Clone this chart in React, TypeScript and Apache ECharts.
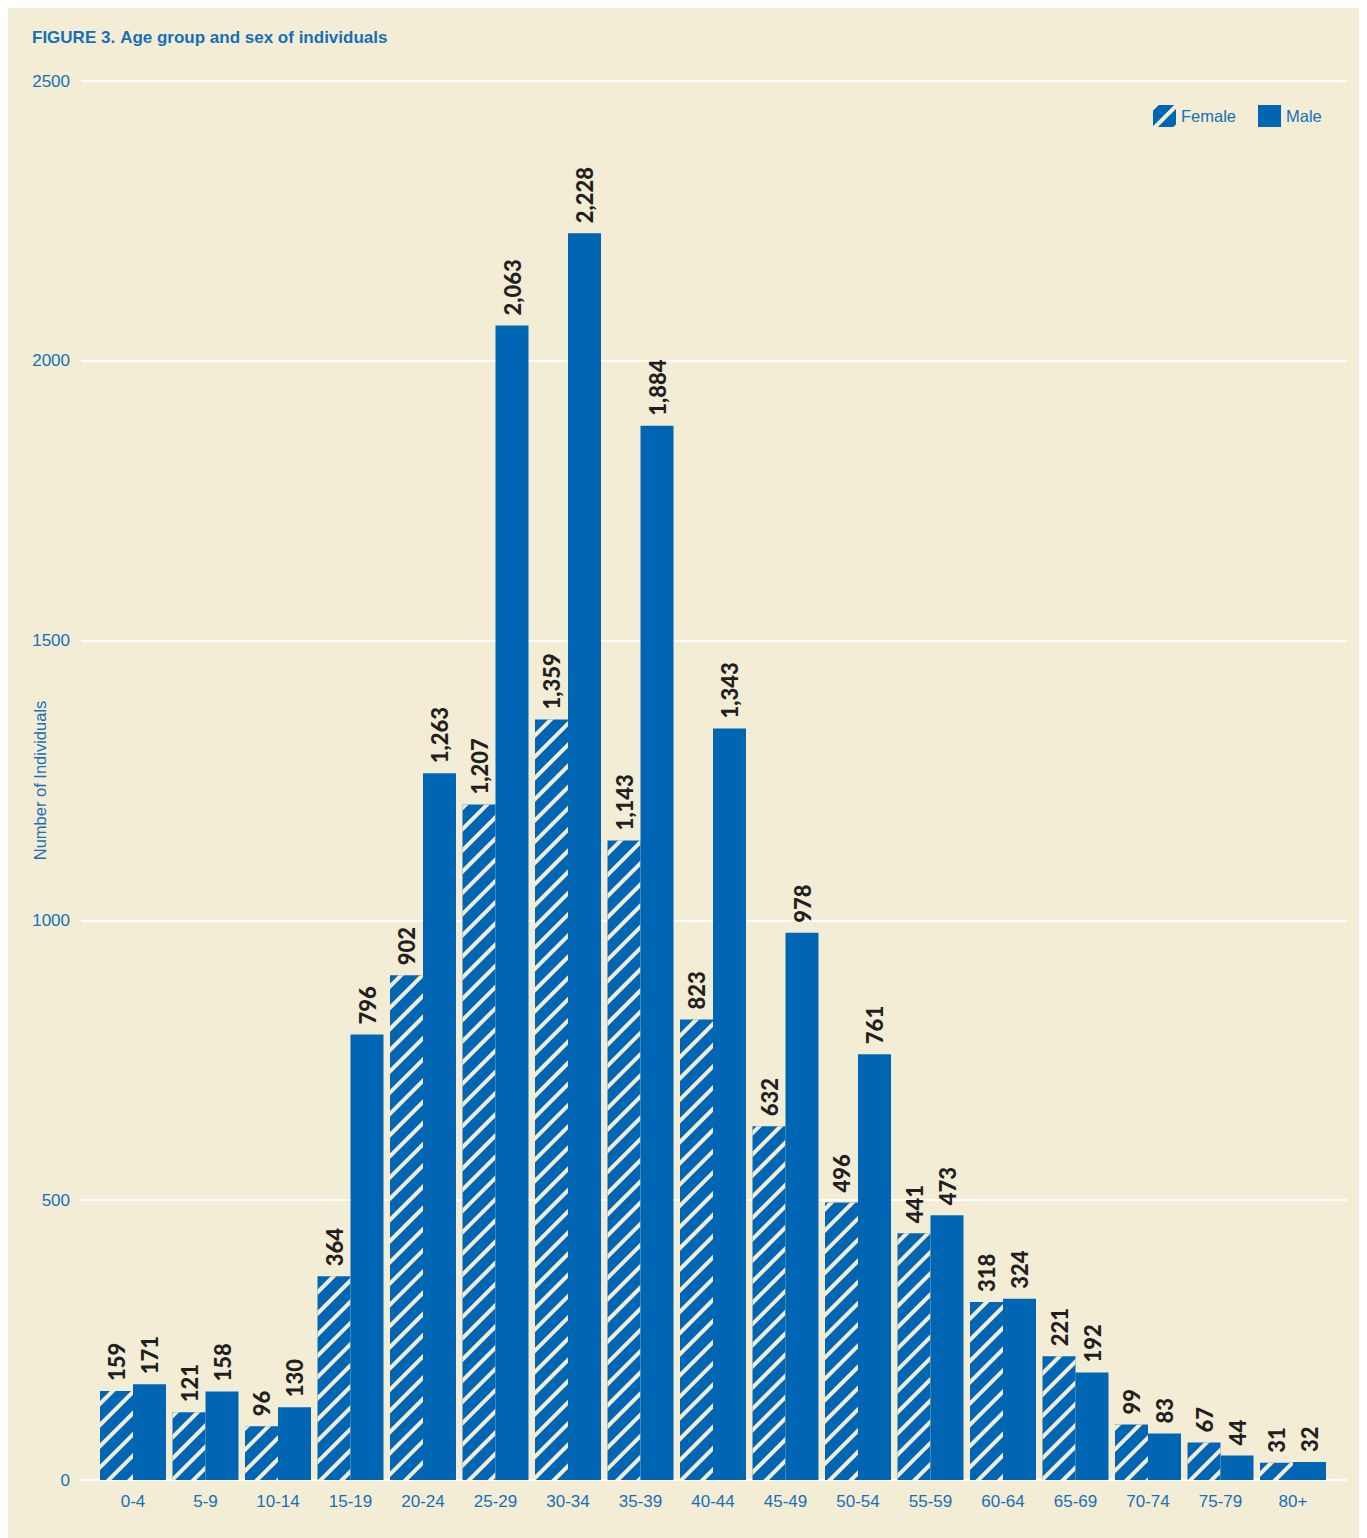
import React, { useEffect, useRef } from "react";
import * as echarts from "echarts";

const categories = ["0-4", "5-9", "10-14", "15-19", "20-24", "25-29", "30-34", "35-39", "40-44", "45-49", "50-54", "55-59", "60-64", "65-69", "70-74", "75-79", "80+"];
const femaleValues = [159, 121, 96, 364, 902, 1207, 1359, 1143, 823, 632, 496, 441, 318, 221, 99, 67, 31];
const maleValues = [171, 158, 130, 796, 1263, 2063, 2228, 1884, 1343, 978, 761, 473, 324, 192, 83, 44, 32];
const yTicks = [0, 500, 1000, 1500, 2000, 2500];

const BLUE = "#0066B3";
const TEXT_BLUE = "#1570B8";
const BG = "#F3EDD6";

export default function App() {
  const ref = useRef<HTMLDivElement>(null);
  useEffect(() => {
    document.body.style.overflow = "hidden";
    const chart = echarts.init(ref.current!, null, { renderer: "svg" });
    const labelCfg = {
      show: true,
      position: "top",
      rotate: 90,
      align: "left",
      verticalAlign: "middle",
      distance: 10,
      color: "#231F20",
      fontFamily: "Lato",
      fontWeight: 900,
      fontSize: 22,
      formatter: (p: any) => Number(p.value).toLocaleString("en-US"),
    };
    chart.setOption({
      animation: false,
      backgroundColor: BG,
      title: {
        left: 19,
        top: 15,
        text: "{b|FIGURE 3.} {r|Age group and sex of individuals}",
        textStyle: {
          rich: {
            b: { fontFamily: "Liberation Sans", fontWeight: "bold", fontSize: 17, color: TEXT_BLUE },
            r: { fontFamily: "Liberation Sans", fontSize: 17, color: TEXT_BLUE },
          },
        },
      },
      legend: {
        left: 1140,
        top: 92,
        itemWidth: 23,
        itemHeight: 22,
        itemGap: 22,
        icon: "rect",
        textStyle: { fontFamily: "Liberation Sans", fontSize: 16.5, color: TEXT_BLUE, padding: [4, 0, 0, 0] },
        data: ["Female", "Male"],
      },
      grid: [
        { left: 73, right: 20, top: 73, bottom: 58 },
        { left: 88.75, right: 37.75, top: 73, bottom: 58 },
      ],
      xAxis: [
        { gridIndex: 0, type: "value", show: false, min: 0, max: 1 },
        {
          gridIndex: 1,
          type: "category",
          data: categories,
          axisLine: { show: false },
          axisTick: { show: false },
          axisLabel: { margin: 13, fontSize: 17, color: TEXT_BLUE, fontFamily: "Liberation Sans" },
        },
      ],
      yAxis: [
        {
          gridIndex: 0,
          type: "value",
          min: yTicks[0],
          max: yTicks[yTicks.length - 1],
          interval: 500,
          name: "Number of Individuals",
          nameLocation: "middle",
          nameGap: 33,
          nameMoveOverlap: false,
          nameTextStyle: { fontSize: 16.5, color: TEXT_BLUE, fontFamily: "Liberation Sans" },
          axisLine: { show: false },
          axisTick: { show: false },
          axisLabel: {
            margin: 11,
            fontSize: 17,
            color: TEXT_BLUE,
            fontFamily: "Liberation Sans",
            formatter: (v: number) => String(v),
          },
          splitLine: { show: true, lineStyle: { color: "#FFFFFF", width: 2 } },
        },
        {
          gridIndex: 1,
          type: "value",
          min: yTicks[0],
          max: yTicks[yTicks.length - 1],
          interval: 500,
          show: false,
          splitLine: { show: false },
        },
      ],
      series: [
        {
          name: "Female",
          type: "bar",
          xAxisIndex: 1,
          yAxisIndex: 1,
          data: femaleValues,
          barWidth: 33,
          barGap: "0%",
          itemStyle: {
            color: BLUE,
            decal: {
              symbol: "rect",
              symbolSize: 1,
              dashArrayX: [1, 0],
              dashArrayY: [4, 11],
              rotation: -Math.PI / 4,
              color: BG,
            },
          },
          label: labelCfg,
        },
        {
          name: "Male",
          type: "bar",
          xAxisIndex: 1,
          yAxisIndex: 1,
          data: maleValues,
          barWidth: 33,
          barGap: "0%",
          itemStyle: { color: BLUE },
          label: labelCfg,
        },
      ],
    });
    return () => chart.dispose();
  }, []);
  return <div ref={ref} style={{ width: 1359, height: 1530 }} />;
}
